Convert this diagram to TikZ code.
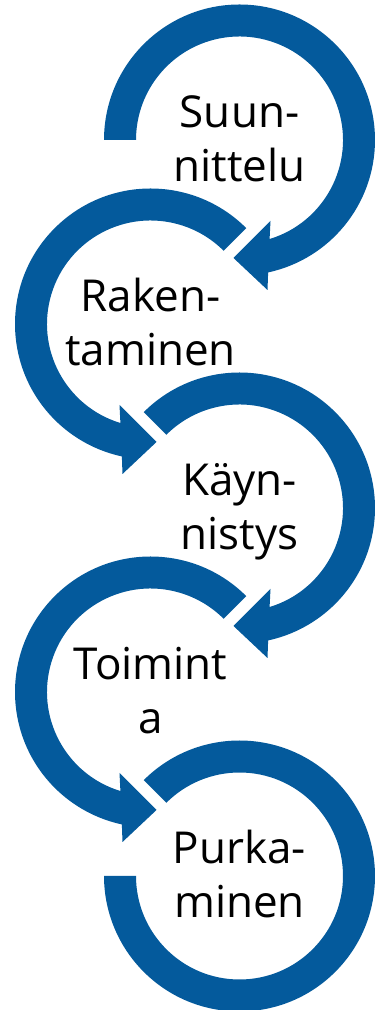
\documentclass[tikz,border=0pt]{standalone}
\usepackage{fontspec}
\setmainfont{Open Sans}
\definecolor{ringblue}{RGB}{4,90,156}
\tikzset{
  ring/.style={fill=ringblue, draw=none},
  lbl/.style={anchor=base, inner sep=0pt, text=black, font=\fontsize{44}{54}\selectfont}
}
% clockwise arrow ring (right circles), #1 = start angle
\newcommand\CWRing[1]{%
  \fill[ring] (#1:135.5) arc[start angle=#1, end angle=-77.8, radius=135.5]
    -- (28,-150) -- (-6,-118) -- (31,-81) -- (-73.1:103.5)
    arc[start angle=-73.1, end angle=#1, radius=103.5] -- cycle;}
% counter-clockwise arrow ring (left circles)
\newcommand\CCWRing[1]{%
  \fill[ring] (#1:135.5) arc[start angle=#1, end angle=257.8, radius=135.5]
    -- (-28,-150) -- (6,-118) -- (-31,-81) -- (253.1:103.5)
    arc[start angle=253.1, end angle=#1, radius=103.5] -- cycle;}
\begin{document}
\begin{tikzpicture}[x=1pt, y=1pt]
\useasboundingbox (0,0) rectangle (375,1010);
\coordinate (c1) at (239.5,870);
\coordinate (c2) at (150.5,686);
\coordinate (c3) at (239.5,502);
\coordinate (c4) at (150.5,318);
\coordinate (c5) at (239.5,134);
\begin{scope}[shift={(c1)}] \CWRing{180} \end{scope}
\begin{scope}[shift={(c2)}] \CCWRing{45} \end{scope}
\begin{scope}[shift={(c3)}] \CWRing{135} \end{scope}
\begin{scope}[shift={(c4)}] \CCWRing{45} \end{scope}
\begin{scope}[shift={(c5)}]
  \fill[ring] (135:135.5) arc[start angle=135, end angle=-180, radius=135.5]
    -- (-180:103.5) arc[start angle=-180, end angle=135, radius=103.5] -- cycle;
\end{scope}
\node[lbl] (t1a) at ([yshift=12]c1) {Suun-};
\node[lbl] (t1b) at ([yshift=-42]c1) {nittelu};
\node[lbl] (t2a) at ([yshift=12]c2) {Raken-};
\node[lbl] (t2b) at ([yshift=-42]c2) {taminen};
\node[lbl] (t3a) at ([yshift=12]c3) {Käyn-};
\node[lbl] (t3b) at ([yshift=-42]c3) {nistys};
\node[lbl] (t4a) at ([yshift=12]c4) {Toimint};
\node[lbl] (t4b) at ([yshift=-42]c4) {a};
\node[lbl] (t5a) at ([yshift=12]c5) {Purka-};
\node[lbl] (t5b) at ([yshift=-42]c5) {minen};
\end{tikzpicture}
\end{document}
